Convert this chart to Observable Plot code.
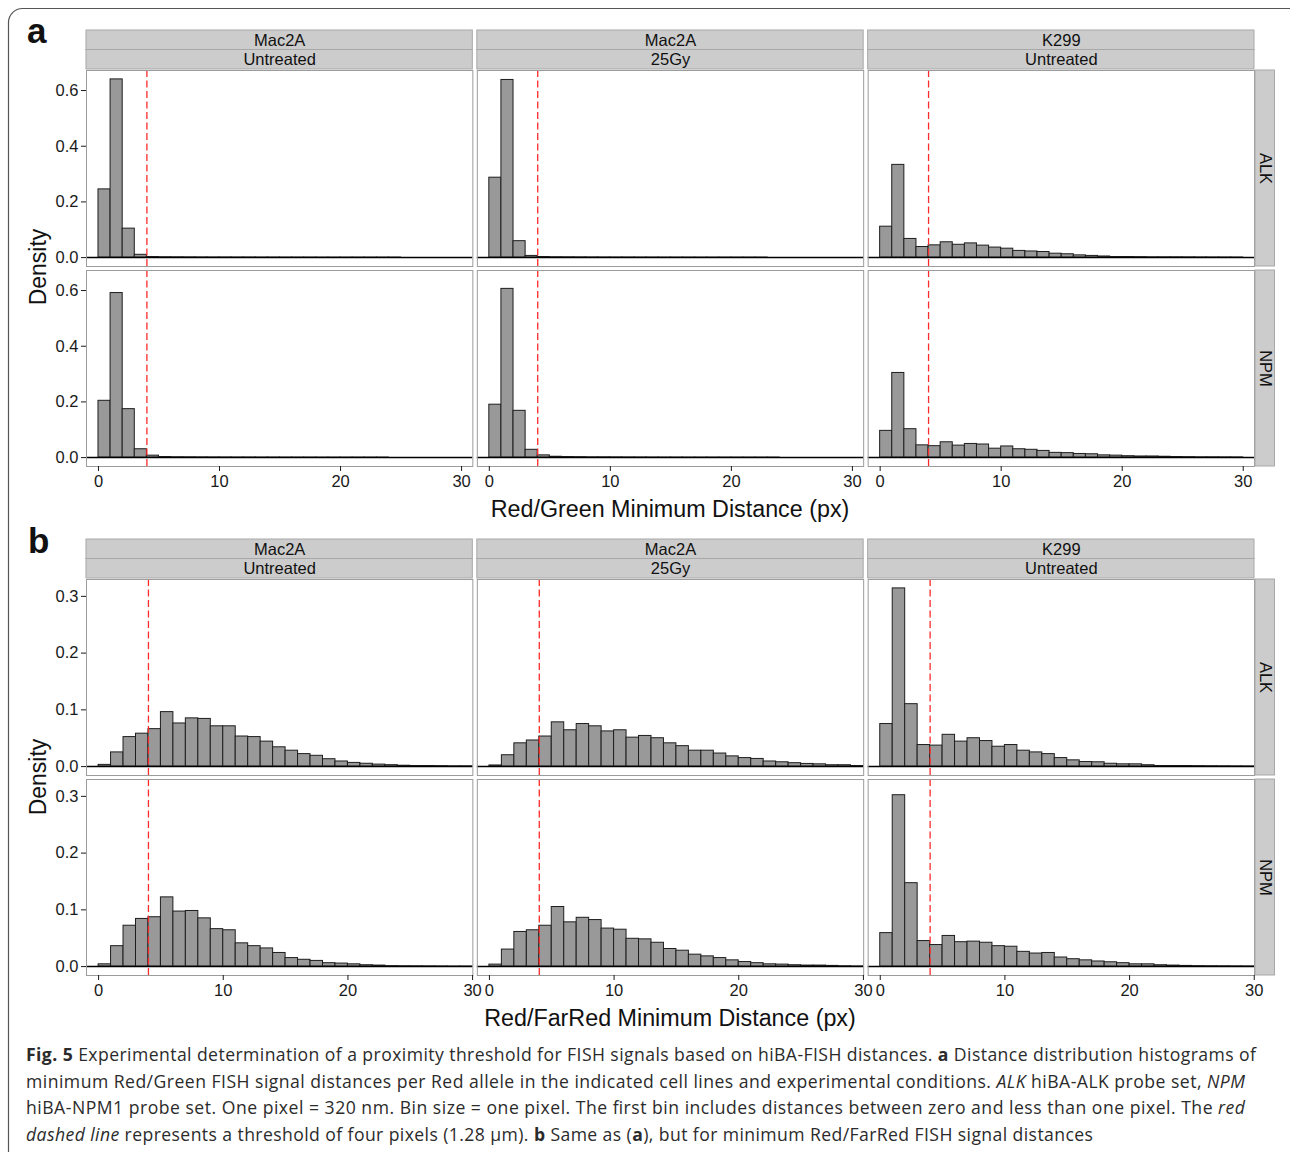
<!DOCTYPE html>
<html><head><meta charset="utf-8">
<script src="https://cdn.jsdelivr.net/npm/d3@7"></script>
<script src="https://cdn.jsdelivr.net/npm/@observablehq/plot@0.6"></script>
<style>
body{margin:0;background:#fff;}
#fig{position:relative;width:1290px;height:1152px;overflow:hidden;background:#fff;}
#fig > svg{position:absolute;left:0;}
</style></head>
<body><div id="fig"></div>
<script>
// ---------- data ----------
const cellLines = ["Mac2A", "Mac2A", "K299"];
const treatments = ["Untreated", "25Gy", "Untreated"];
const probes = ["ALK", "NPM"];
const binStart = [0,1,2,3,4,5,6,7,8,9,10,11,12,13,14,15,16,17,18,19,20,21,22,23,24,25,26,27,28,29];
const binWidth = 1;
const thresholdPx = 4;
const xTicks = [0, 10, 20, 30];
const yTicksRedGreen = [0, 0.2, 0.4, 0.6];
const yTicksRedFarRed = [0, 0.1, 0.2, 0.3];
const xTitleA = "Red/Green Minimum Distance (px)";
const xTitleB = "Red/FarRed Minimum Distance (px)";
const yTitle = "Density";

// Red/Green densities (panel a)
const rgMac2AUntreatedALK = [0.245,0.640,0.104,0.010,0.002,0.0012,0.001,0.0008,0.0006,0.0005,0.0005,0.0004,0.0004,0.0003,0.0003,0.0002,0.0002,0.0002,0.0001,0.0001,0.0001,0.0001,0.0001,0.0001,0.0001,0,0,0,0,0];
const rgMac2A25GyALK      = [0.287,0.638,0.059,0.006,0.002,0.0012,0.001,0.0008,0.0006,0.0005,0.0004,0.0004,0.0003,0.0003,0.0002,0.0002,0.0002,0.0001,0.0001,0.0001,0.0001,0.0001,0.0001,0,0,0,0,0,0,0];
const rgK299UntreatedALK  = [0.111,0.333,0.067,0.038,0.044,0.055,0.046,0.051,0.043,0.036,0.032,0.024,0.022,0.020,0.014,0.012,0.008,0.006,0.004,0.002,0.002,0.0015,0.001,0.001,0.001,0.0008,0.0006,0.0005,0.0004,0.0003];
const rgMac2AUntreatedNPM = [0.204,0.591,0.174,0.030,0.007,0.002,0.0012,0.001,0.0008,0.0006,0.0005,0.0004,0.0004,0.0003,0.0003,0.0002,0.0002,0.0002,0.0001,0.0001,0.0001,0.0001,0.0001,0.0001,0,0,0,0,0,0];
const rgMac2A25GyNPM      = [0.190,0.606,0.168,0.028,0.008,0.003,0.002,0.0015,0.001,0.001,0.0008,0.0006,0.0005,0.0004,0.0003,0.0003,0.0002,0.0002,0.0002,0.0001,0.0001,0.0001,0.0001,0.0001,0,0,0,0,0,0];
const rgK299UntreatedNPM  = [0.096,0.304,0.102,0.044,0.041,0.055,0.043,0.049,0.047,0.032,0.040,0.030,0.028,0.024,0.017,0.016,0.013,0.012,0.008,0.007,0.005,0.004,0.004,0.003,0.002,0.0015,0.001,0.001,0.0008,0.0006];

// Red/FarRed densities (panel b)
const rfMac2AUntreatedALK = [0.003,0.025,0.052,0.058,0.066,0.096,0.076,0.085,0.084,0.071,0.071,0.053,0.052,0.044,0.034,0.028,0.022,0.019,0.013,0.009,0.0065,0.005,0.0035,0.0025,0.0015,0.001,0.001,0.0008,0.0005,0.0005];
const rfMac2A25GyALK      = [0.002,0.020,0.041,0.046,0.053,0.078,0.064,0.075,0.071,0.062,0.064,0.051,0.054,0.050,0.041,0.036,0.028,0.028,0.023,0.018,0.015,0.0135,0.009,0.0076,0.006,0.0047,0.004,0.0024,0.0024,0.001];
const rfK299UntreatedALK  = [0.075,0.314,0.110,0.038,0.037,0.056,0.044,0.050,0.045,0.035,0.038,0.028,0.025,0.022,0.015,0.011,0.008,0.0076,0.005,0.004,0.004,0.0024,0.001,0.001,0.001,0.0008,0.0006,0.0005,0.0004,0.0003];
const rfMac2AUntreatedNPM = [0.004,0.036,0.072,0.084,0.087,0.122,0.097,0.098,0.085,0.066,0.064,0.041,0.036,0.032,0.024,0.015,0.012,0.010,0.006,0.0053,0.004,0.0024,0.0018,0.0008,0.0006,0.0005,0.0004,0.0003,0.0002,0.0002];
const rfMac2A25GyNPM      = [0.0035,0.030,0.061,0.064,0.072,0.105,0.078,0.086,0.082,0.067,0.065,0.049,0.048,0.042,0.031,0.028,0.021,0.018,0.015,0.011,0.008,0.006,0.004,0.0035,0.0024,0.0018,0.0018,0.0012,0.0006,0.0003];
const rfK299UntreatedNPM  = [0.059,0.302,0.147,0.045,0.038,0.054,0.043,0.044,0.042,0.036,0.035,0.026,0.023,0.024,0.016,0.013,0.011,0.009,0.0076,0.006,0.004,0.004,0.0024,0.0018,0.0012,0.0008,0.0006,0.0005,0.0004,0.0003];

// ---------- layout ----------
const conds = cellLines.map((c, i) => c + " " + treatments[i]);
const W = 1290, H = 500, mT = 70, mB = 34, mL = 86, mR = 36;
const fxPad = 0.0115, fyPad = 0.02;
const stripH = 19.5, stripGap = 1;
const fxBW = d3.scaleBand(conds, [mL, W - mR]).paddingInner(fxPad).paddingOuter(0).bandwidth();
const fyBW = d3.scaleBand(probes, [mT, H - mB]).paddingInner(fyPad).paddingOuter(0).bandwidth();
const FONT = "Liberation Sans, Arial, Helvetica, sans-serif";

function panel(series, xDomain, yDomain, yTicks) {
  const rows = [];
  probes.forEach(p => conds.forEach((c, i) => series[p][i].forEach((v, k) =>
    rows.push({cond: c, probe: p, x1: binStart[k], x2: binStart[k] + binWidth, density: v}))));
  const topStrips = conds.map((c, i) => ({cond: c, probe: probes[0], line1: cellLines[i], line2: treatments[i]}));
  const rightStrips = probes.map(p => ({cond: conds[conds.length - 1], probe: p}));
  const stripStyle = {fx: "cond", fy: "probe", fill: "#cccccc", stroke: "#a8a8a8", strokeWidth: 1};
  const stripText = {fx: "cond", fy: "probe", fontSize: 16.5, fill: "#111", textAnchor: "middle", lineAnchor: "middle"};
  return Plot.plot({
    width: W, height: H, marginTop: mT, marginBottom: mB, marginLeft: mL, marginRight: mR,
    style: {fontFamily: FONT, background: "transparent", overflow: "visible"},
    x: {domain: xDomain},
    y: {domain: yDomain},
    fx: {domain: conds, paddingInner: fxPad, paddingOuter: 0, round: false, axis: null},
    fy: {domain: probes, paddingInner: fyPad, paddingOuter: 0, round: false, axis: null},
    marks: [
      Plot.rectY(rows, {fx: "cond", fy: "probe", x1: "x1", x2: "x2", y: "density",
        fill: "#999999", stroke: "#1e1e1e", strokeWidth: 1}),
      Plot.ruleY([0], {stroke: "#000", strokeWidth: 1.5}),
      Plot.ruleX([thresholdPx], {stroke: "#ff2b2b", strokeWidth: 1.3, strokeDasharray: "7,3.5"}),
      Plot.frame({stroke: "#9c9c9c", strokeWidth: 1}),
      Plot.rect(topStrips, {...stripStyle, insetBottom: fyBW - stripH, dy: -(2 * stripH + stripGap)}),
      Plot.rect(topStrips, {...stripStyle, insetBottom: fyBW - stripH, dy: -(stripH + stripGap)}),
      Plot.text(topStrips, {...stripText, text: "line1", frameAnchor: "top", dy: -(1.5 * stripH + stripGap)}),
      Plot.text(topStrips, {...stripText, text: "line2", frameAnchor: "top", dy: -(0.5 * stripH + stripGap)}),
      Plot.rect(rightStrips, {...stripStyle, insetLeft: fxBW - stripH, dx: stripH + stripGap}),
      Plot.text(rightStrips, {...stripText, text: "probe", frameAnchor: "right", dx: stripH / 2 + stripGap, rotate: 90}),
      Plot.axisX({ticks: xTicks, tickSize: 5, tickPadding: 4, fontSize: 16.5, color: "#1a1a1a", label: null}),
      Plot.axisY({ticks: yTicks, tickFormat: d3.format(".1f"), tickSize: 5, tickPadding: 3, fontSize: 16.5, color: "#1a1a1a", label: null})
    ]
  });
}

const fig = document.getElementById("fig");
const plotA = panel({
  ALK: [rgMac2AUntreatedALK, rgMac2A25GyALK, rgK299UntreatedALK],
  NPM: [rgMac2AUntreatedNPM, rgMac2A25GyNPM, rgK299UntreatedNPM]
}, [-0.99, 30.93], [-0.032, 0.672], yTicksRedGreen);
plotA.style.top = "0px";
fig.appendChild(plotA);

const plotB = panel({
  ALK: [rfMac2AUntreatedALK, rfMac2A25GyALK, rfK299UntreatedALK],
  NPM: [rfMac2AUntreatedNPM, rfMac2A25GyNPM, rfK299UntreatedNPM]
}, [-0.97, 30.02], [-0.0157, 0.3297], yTicksRedFarRed);
plotB.style.top = "509px";
fig.appendChild(plotB);

// ---------- overlay: border, panel letters, axis titles, caption ----------
const ov = d3.select(fig).append("svg")
  .attr("width", 1290).attr("height", 1152)
  .style("top", "0px").style("pointer-events", "none");
ov.append("path").attr("d", "M8.5,1170 V22.5 A14,14 0 0 1 22.5,8.5 H1310")
  .attr("fill", "none").attr("stroke", "#555").attr("stroke-width", 1.2);

const t = ov.append("g").attr("font-family", FONT).attr("fill", "#111");
t.append("text").attr("x", 27).attr("y", 43).attr("font-size", 35).attr("font-weight", "bold").text("a");
t.append("text").attr("x", 28).attr("y", 553).attr("font-size", 35).attr("font-weight", "bold").text("b");
t.append("text").attr("x", (mL + W - mR) / 2).attr("y", 517).attr("font-size", 23.3).attr("text-anchor", "middle").text(xTitleA);
t.append("text").attr("x", (mL + W - mR) / 2).attr("y", 1026).attr("font-size", 23.3).attr("text-anchor", "middle").text(xTitleB);
t.append("text").attr("transform", "translate(46,267) rotate(-90)").attr("font-size", 23).attr("text-anchor", "middle").text(yTitle);
t.append("text").attr("transform", "translate(46,777) rotate(-90)").attr("font-size", 23).attr("text-anchor", "middle").text(yTitle);

const captionLines = [
  {w: 1230, parts: [["Fig. 5", "b"], [" Experimental determination of a proximity threshold for FISH signals based on hiBA-FISH distances. ", ""], ["a", "b"], [" Distance distribution histograms of", ""]]},
  {w: 1219, parts: [["minimum Red/Green FISH signal distances per Red allele in the indicated cell lines and experimental conditions. ", ""], ["ALK", "i"], [" hiBA-ALK probe set, ", ""], ["NPM", "i"]]},
  {w: 1219, parts: [["hiBA-NPM1 probe set. One pixel = 320 nm. Bin size = one pixel. The first bin includes distances between zero and less than one pixel. The ", ""], ["red", "i"]]},
  {w: 1067, parts: [["dashed line", "i"], [" represents a threshold of four pixels (1.28 \u03bcm). ", ""], ["b", "b"], [" Same as (", ""], ["a", "b"], ["), but for minimum Red/FarRed FISH signal distances", ""]]}
];
const cap = ov.append("g").attr("font-family", "'Open Sans', 'Noto Sans', sans-serif").attr("font-size", 17.6).attr("fill", "#2b2b2b");
captionLines.forEach((ln, i) => {
  const tx = cap.append("text").attr("x", 26).attr("y", 1061 + i * 26.7)
    .attr("textLength", ln.w).attr("lengthAdjust", "spacing").style("white-space", "pre");
  ln.parts.forEach(([s, f]) => {
    const ts = tx.append("tspan").text(s);
    if (f === "b") ts.attr("font-weight", "bold");
    if (f === "i") ts.attr("font-style", "italic");
  });
});
</script>
</body></html>
